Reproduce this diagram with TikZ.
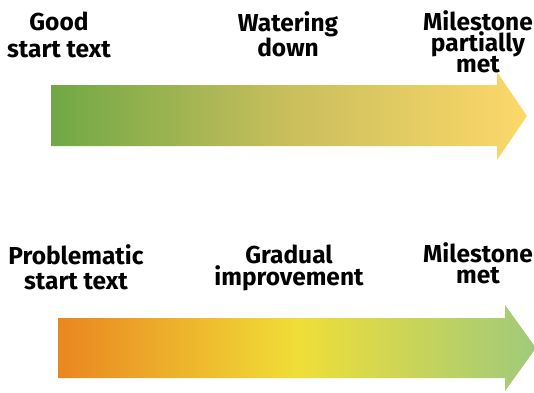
\documentclass[tikz,border=0pt]{standalone}
\usepackage{fontspec}
\setmainfont{Fira Sans}
\usetikzlibrary{positioning}
\definecolor{StartGreen}{HTML}{6FA845}
\definecolor{MidOlive}{HTML}{C9BF5C}
\definecolor{EndYellow}{HTML}{FDD86A}
\definecolor{StartOrange}{HTML}{EA8620}
\definecolor{MidYellow}{HTML}{F0DE37}
\definecolor{EndGreen}{HTML}{9FCA7C}

\begin{document}
\begin{tikzpicture}[x=1pt,y=-1pt]
  \tikzset{lbl/.style={font=\bfseries\fontsize{24.5}{24}\selectfont,align=center,inner sep=0pt,anchor=north}}
  \useasboundingbox (0,0) rectangle (534,392);
  % upper arrow: good start, watered down
  \shade[left color=StartGreen,right color=EndYellow,middle color=MidOlive]
    (51,85) -- (497,85) -- (497,72) -- (527,116) -- (497,160) -- (497,146) -- (51,146) -- cycle;
  \node[lbl] (good) at (59,11.5) {Good\\[3pt]start text};
  \node[lbl] (water) at (288,11.5) {Watering\\down};
  \node[lbl] (partial) at (478,10.5) {Milestone\\[-3pt]partially\\[-3pt]met};
  % lower arrow: problematic start, improved
  \shade[left color=StartOrange,right color=EndGreen,middle color=MidYellow]
    (58,318) -- (505,318) -- (505,305) -- (536,348) -- (505,391) -- (505,378) -- (58,378) -- cycle;
  \node[lbl] (problem) at (76,244) {Problematic\\[1pt]start text};
  \node[lbl] (gradual) at (289,245) {Gradual\\[-2pt]improvement};
  \node[lbl] (met) at (478,242) {Milestone\\[-3pt]met};
\end{tikzpicture}
\end{document}
